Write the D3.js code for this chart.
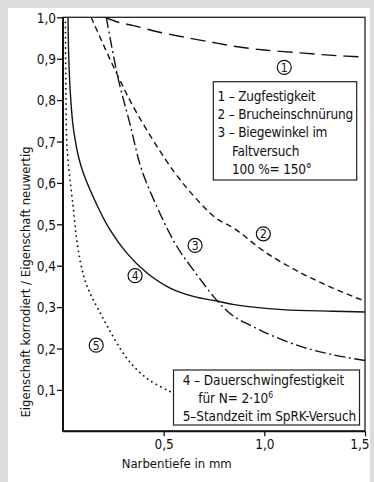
<!DOCTYPE html>
<html>
<head>
<meta charset="utf-8">
<script src="https://cdn.jsdelivr.net/npm/d3@7"></script>
<style>
  body { margin: 0; background: #dcdcdc; }
  svg { display: block; }
  text { font-family: "Liberation Sans Narrow", "DejaVu Sans Condensed", sans-serif; fill: #111; }
</style>
</head>
<body>
<svg id="chart" width="374" height="482"></svg>
<script>
// curves (x = Narbentiefe mm, y = ratio)
const zugX = [0.21, 0.275, 0.35, 0.48, 0.68, 0.77, 0.85, 1.0, 1.18, 1.34, 1.5];
const zugY = [1.0, 0.988, 0.980, 0.964, 0.945, 0.937, 0.930, 0.921, 0.914, 0.908, 0.904];

const bruchX = [0.14, 0.26, 0.37, 0.55, 0.68, 0.76, 0.85, 1.01, 1.18, 1.34, 1.5];
const bruchY = [1.0, 0.871, 0.766, 0.628, 0.552, 0.515, 0.490, 0.431, 0.383, 0.346, 0.314];

const biegeX = [0.215, 0.275, 0.333, 0.39, 0.48, 0.565, 0.647, 0.77, 0.85, 0.96, 1.01, 1.18, 1.34, 1.5];
const biegeY = [1.0, 0.85, 0.742, 0.633, 0.528, 0.447, 0.39, 0.313, 0.277, 0.249, 0.237, 0.205, 0.185, 0.171];

const dauerX = [0.025, 0.027, 0.031, 0.036, 0.048, 0.06, 0.076, 0.10, 0.175, 0.233, 0.316, 0.416, 0.532, 0.647, 0.77, 0.85, 1.09, 1.34, 1.5];
const dauerY = [1.0, 0.93, 0.87, 0.82, 0.746, 0.705, 0.665, 0.625, 0.54, 0.487, 0.431, 0.383, 0.346, 0.326, 0.314, 0.306, 0.294, 0.29, 0.288];

const standX = [0.012, 0.013, 0.015, 0.018, 0.024, 0.031, 0.05, 0.066, 0.084, 0.106, 0.134, 0.175, 0.228, 0.316, 0.416, 0.532];
const standY = [1.0, 0.9, 0.8, 0.705, 0.66, 0.625, 0.544, 0.471, 0.415, 0.37, 0.334, 0.295, 0.247, 0.177, 0.128, 0.096];

const xTicks = [0.5, 1.0, 1.5];
const yTicks = [0.1, 0.2, 0.3, 0.4, 0.5, 0.6, 0.7, 0.8, 0.9, 1.0];

const markNames = ["1", "2", "3", "4", "5"];
const markX = [1.099, 0.995, 0.656, 0.358, 0.165];
const markY = [0.879, 0.477, 0.449, 0.376, 0.208];

const legendTop = ["1 – Zugfestigkeit", "2 – Brucheinschnürung", "3 – Biegewinkel  im", "Faltversuch", "100 %= 150°"];
const legendBottom = ["4 – Dauerschwingfestigkeit", "für N= 2·10", "5–Standzeit im SpRK-Versuch"];

const svg = d3.select("#chart");
svg.append("rect").attr("x", 8).attr("y", 8).attr("width", 362).attr("height", 474).attr("fill", "#fff");

const mLeft = 63, mRight = 365, mTop = 17.3, mBottom = 431.3;
const x = d3.scaleLinear().domain([0, 1.5]).range([mLeft, mRight]);
const y = d3.scaleLinear().domain([0, 1]).range([mBottom, mTop]);

svg.append("clipPath").attr("id", "plot")
  .append("rect").attr("x", mLeft).attr("y", mTop).attr("width", mRight - mLeft).attr("height", mBottom - mTop);

const fmt = d => d3.format(".1f")(d).replace(".", ",");

// axes
svg.append("g").attr("transform", `translate(${mLeft},0)`)
  .call(d3.axisLeft(y).tickValues(yTicks).tickSize(6).tickFormat(fmt))
  .call(g => g.select(".domain").remove())
  .call(g => g.selectAll("line").attr("stroke", "#111").attr("stroke-width", 1.3))
  .call(g => g.selectAll("text").attr("font-size", 13.5).attr("x", -7).attr("dy", "0.35em"));

svg.append("g").attr("transform", `translate(0,${mBottom})`)
  .call(d3.axisBottom(x).tickValues(xTicks).tickSize(5).tickFormat(fmt))
  .call(g => g.select(".domain").remove())
  .call(g => g.selectAll("line").attr("stroke", "#111").attr("stroke-width", 1.3))
  .call(g => g.selectAll("text").attr("font-size", 13.5).attr("y", 8))
  .call(g => g.selectAll("text").filter(d => d === 1.5).attr("text-anchor", "end").attr("dx", 4));

// frame
svg.append("rect").attr("x", mLeft).attr("y", mTop).attr("width", mRight - mLeft).attr("height", mBottom - mTop)
  .attr("fill", "none").attr("stroke", "#222").attr("stroke-width", 1.3);
svg.append("line").attr("x1", mLeft).attr("x2", mLeft).attr("y1", mTop).attr("y2", mBottom)
  .attr("stroke", "#111").attr("stroke-width", 2);
svg.append("line").attr("x1", mLeft).attr("x2", mRight).attr("y1", mBottom).attr("y2", mBottom)
  .attr("stroke", "#111").attr("stroke-width", 2);

// curves
const line = d3.line().x(d => x(d[0])).y(d => y(d[1])).curve(d3.curveCatmullRom.alpha(0.5));
const curves = [
  { xs: zugX, ys: zugY, dash: "15,7", w: 1.4, cap: "butt" },
  { xs: bruchX, ys: bruchY, dash: "6,4", w: 1.4, cap: "butt" },
  { xs: biegeX, ys: biegeY, dash: "11,3.5,2,3.5", w: 1.4, cap: "butt" },
  { xs: dauerX, ys: dauerY, dash: null, w: 1.4, cap: "butt" },
  { xs: standX, ys: standY, dash: "0.1,5", w: 1.8, cap: "round" }
];
const cg = svg.append("g").attr("clip-path", "url(#plot)");
curves.forEach(c => {
  cg.append("path")
    .attr("d", line(c.xs.map((v, i) => [v, c.ys[i]])))
    .attr("fill", "none").attr("stroke", "#111")
    .attr("stroke-width", c.w)
    .attr("stroke-linecap", c.cap)
    .attr("stroke-dasharray", c.dash);
});

// circled numbers
const mk = svg.append("g").selectAll("g").data(markNames).join("g")
  .attr("transform", (d, i) => `translate(${x(markX[i])},${y(markY[i])})`);
mk.append("circle").attr("r", 7).attr("fill", "#fff").attr("stroke", "#111").attr("stroke-width", 1.2);
mk.append("text").attr("text-anchor", "middle").attr("dy", "0.36em").attr("font-size", 12).text(d => d);

// legend boxes
svg.append("rect").attr("x", 213.3).attr("y", 81.7).attr("width", 143.4).attr("height", 98.3)
  .attr("fill", "#fff").attr("stroke", "#222").attr("stroke-width", 1.2);
svg.append("g").selectAll("text").data(legendTop).join("text")
  .attr("x", (d, i) => i < 3 ? 217.5 : 232)
  .attr("y", (d, i) => 101 + i * 18.2)
  .attr("font-size", 13.5).attr("letter-spacing", -0.2).text(d => d);

svg.append("rect").attr("x", 173.5).attr("y", 370).attr("width", 186).attr("height", 55)
  .attr("fill", "#fff").attr("stroke", "#222").attr("stroke-width", 1.2);
const lb = svg.append("g").selectAll("text").data(legendBottom).join("text")
  .attr("x", (d, i) => i === 1 ? 198.3 : 182.7)
  .attr("y", (d, i) => 385 + i * 17.8)
  .attr("font-size", 13.5).attr("letter-spacing", -0.1).text(d => d);
lb.filter((d, i) => i === 1).append("tspan").attr("dy", -5).attr("font-size", 8.5).text("6");

// axis titles
svg.append("text").attr("x", 176.7).attr("y", 468).attr("text-anchor", "middle")
  .attr("font-size", 13).text("Narbentiefe in mm");
svg.append("text").attr("transform", "translate(30,282) rotate(-90)").attr("text-anchor", "middle")
  .attr("font-size", 13).text("Eigenschaft korrodiert / Eigenschaft neuwertig");
</script>
</body>
</html>
